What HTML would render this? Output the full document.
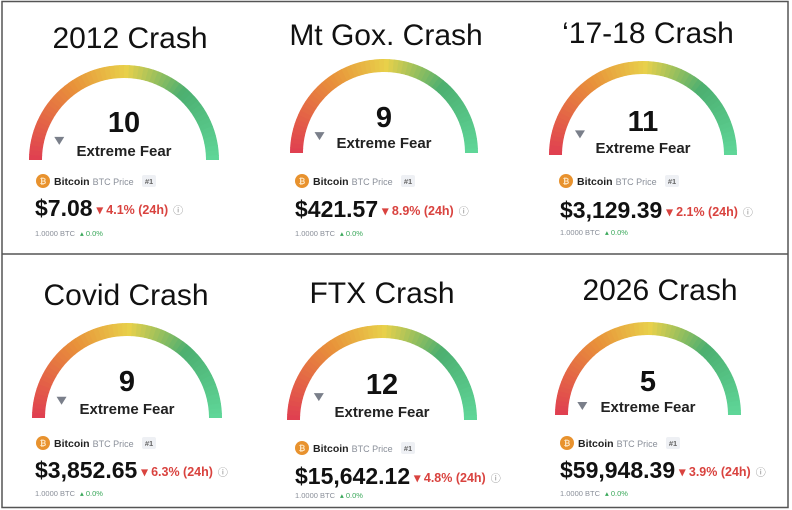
<!DOCTYPE html>
<html><head><meta charset="utf-8">
<style>
html,body{margin:0;padding:0;background:#fff;}
svg{display:block;font-family:"Liberation Sans",Arial,sans-serif;}
</style></head>
<body>
<svg id="chart" width="792" height="510" viewBox="0 0 792 510" xmlns="http://www.w3.org/2000/svg">
<rect x="2" y="1.5" width="786" height="506" fill="#fff" stroke="#555" stroke-width="1.5"/>
<line x1="2" y1="254" x2="788" y2="254" stroke="#555" stroke-width="1.5"/>
</svg>
<script>
const titles = ["2012 Crash","Mt Gox. Crash","\u201817-18 Crash","Covid Crash","FTX Crash","2026 Crash"];
const indexValues = [10, 9, 11, 9, 12, 5];
const labels = ["Extreme Fear","Extreme Fear","Extreme Fear","Extreme Fear","Extreme Fear","Extreme Fear"];
const prices = ["$7.08","$421.57","$3,129.39","$3,852.65","$15,642.12","$59,948.39"];
const changes = ["4.1%","8.9%","2.1%","6.3%","4.8%","3.9%"];

// layout: [titleX,titleBase,cx,cy,r,numCenter,efBase,iconX,iconY,priceX,priceBase,smallY]
const layout = [
 [130,48,124,160,95,122,156,43,181,35,216,233],
 [386,45,384,153,94,117,148,302,181,295,217,233],
 [648,43,643,155,94,121,153,566,181,560,218,232],
 [126,305,127,418,95,381,414,43,443,35,478,493],
 [382,303,382,420,95,384,417,302,448,295,484,495],
 [660,300,648,415,93,381,412,567,443,560,478,493]
];
const NS="http://www.w3.org/2000/svg";
const svg=document.getElementById('chart');
function mk(tag,attrs,parent){const e=document.createElementNS(NS,tag);for(const k in attrs)e.setAttribute(k,attrs[k]);(parent||svg).appendChild(e);return e;}
const stops=[[0,[224,64,80]],[0.3,[232,146,58]],[0.5,[232,208,74]],[0.72,[76,175,112]],[1,[96,216,154]]];
function col(t){for(let i=0;i<stops.length-1;i++){const a=stops[i],b=stops[i+1];if(t<=b[0]){const f=(t-a[0])/(b[0]-a[0]);return 'rgb('+a[1].map((v,j)=>Math.round(v+(b[1][j]-v)*f)).join(',')+')';}}return 'rgb(96,216,154)';}

layout.forEach((L,i)=>{
  const [tx,tb,cx,cy,r,nc,efb,ix,iy,px,pb,sy]=L;
  const g=mk('g',{});
  
  
  const t=mk('text',{x:tx,y:tb,'text-anchor':'middle','font-size':30,fill:'#111'},g);
  
  
  t.textContent=titles[i];
  const ga=mk('g',{},g);
  
  
  const rm=r-6.5, N=60;
  for(let k=0;k<N;k++){
    const a0=Math.PI*(1-k/N), a1=Math.PI*(1-(k+1.15)/N);
    const x0=cx+rm*Math.cos(a0), y0=cy-rm*Math.sin(a0), x1=cx+rm*Math.cos(Math.max(a1,0)), y1=cy-rm*Math.sin(Math.max(a1,0));
    mk('path',{d:`M${x0},${y0} A${rm},${rm} 0 0 1 ${x1},${y1}`,stroke:col(k/N),'stroke-width':13,fill:'none'},ga);
  }
  const ang=Math.PI*(1-indexValues[i]/100)-0.05, pr=r-30;
  const ptx=cx+pr*Math.cos(ang)-4, pty=cy-pr*Math.sin(ang)+4;
  const p=mk('path',{d:`M${ptx-5},${pty-4} L${ptx+5},${pty-4} L${ptx},${pty+4} Z`,fill:'#7a7f8a'},g);
  
  
  const n=mk('text',{x:cx,y:nc+10,'text-anchor':'middle','font-size':29,'font-weight':'bold',fill:'#111'},g);
  
  
  n.textContent=indexValues[i];
  const ef=mk('text',{x:cx,y:efb,'text-anchor':'middle','font-size':15,'font-weight':'bold',fill:'#222'},g);
  
  
  ef.textContent=labels[i];
  const ic=mk('circle',{cx:ix,cy:iy,r:7,fill:'#e8922e'},g);
  
  
  mk('text',{x:ix,y:iy+3,'text-anchor':'middle','font-size':8,'font-weight':'bold',fill:'#fde6c4'},g).textContent='₿';
  const bt=mk('text',{x:ix+11,y:iy+4,'font-size':10.5,fill:'#222'},g);
  
  
  const s1=mk('tspan',{'font-weight':'bold'},bt); s1.textContent='Bitcoin';
  const s2=mk('tspan',{'font-size':9,fill:'#8a8f99',dx:3},bt); s2.textContent='BTC Price';
  const bd=mk('rect',{x:ix+99,y:iy-6,width:14,height:12,rx:2,fill:'#eef0f4'},g);
  
  
  mk('text',{x:ix+106,y:iy+3,'text-anchor':'middle','font-size':7.5,'font-weight':'bold',fill:'#666'},g).textContent='#1';
  const pt=mk('text',{x:px,y:pb,'font-size':23,'font-weight':'bold',fill:'#111'},g);
  
  
  const ps=mk('tspan',{},pt); ps.textContent=prices[i];
  const cs=mk('tspan',{'font-size':12.5,fill:'#d9433f',dx:4,dy:-2},pt); cs.textContent='▾ '+changes[i]+' (24h)';
  const is=mk('tspan',{'font-size':10,fill:'#888','font-weight':'normal',dx:5},pt); is.textContent='ⓘ';
  const sm=mk('text',{x:px,y:sy+3,'font-size':7.5,fill:'#8a8f99'},g);
  
  
  const a1=mk('tspan',{},sm); a1.textContent='1.0000 BTC';
  const a2=mk('tspan',{fill:'#3aa85a',dx:5},sm); a2.textContent='▴ 0.0%';
});
</script>
</body></html>
